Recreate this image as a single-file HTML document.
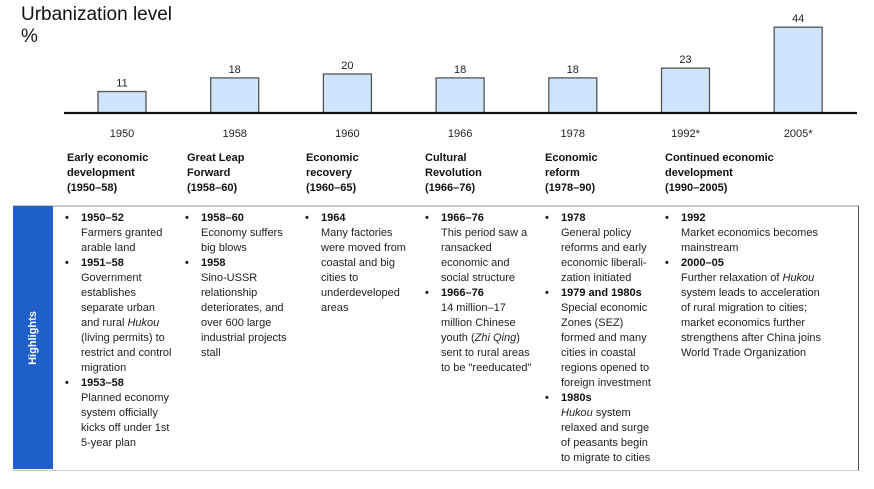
<!DOCTYPE html>
<html><head><meta charset="utf-8">
<style>
body{margin:0;background:#fff;width:874px;height:489px;overflow:hidden;position:relative;font-family:"Liberation Sans",Arial,sans-serif;color:#111}
.abs{position:absolute}
.title{left:21px;top:4px;font-size:19px;line-height:22px;color:#111}
.hdr{position:absolute;top:151px;font-size:11px;font-weight:bold;line-height:15px;white-space:nowrap}
.col{position:absolute;top:211px;font-size:11px;line-height:15px;white-space:nowrap;color:#222}
.col .it{position:relative;padding-left:16px}
.col .it::before{content:"•";position:absolute;left:0;top:0;font-size:11px;font-weight:bold}
.col b{color:#111}
</style></head><body>
<div class="abs title">Urbanization level<br>%</div>
<svg class="abs" style="left:0;top:0" width="874" height="140" id="chart"></svg>

<div class="hdr" style="left:67px">Early economic<br>development<br>(1950–58)</div>
<div class="hdr" style="left:187px">Great Leap<br>Forward<br>(1958–60)</div>
<div class="hdr" style="left:306px">Economic<br>recovery<br>(1960–65)</div>
<div class="hdr" style="left:425px">Cultural<br>Revolution<br>(1966–76)</div>
<div class="hdr" style="left:545px">Economic<br>reform<br>(1978–90)</div>
<div class="hdr" style="left:665px">Continued economic<br>development<br>(1990–2005)</div>

<div class="abs" style="left:13px;top:205px;width:845px;height:263px;border-top:2px solid #c8c8c8;border-right:1px solid #555;border-bottom:1px solid #ccc"></div>
<div class="abs" style="left:13px;top:206px;width:40px;height:263px;background:#1f5fc8">
  <div style="position:absolute;left:20px;top:132px;transform:translate(-50%,-50%) rotate(-90deg);color:#fff;font-weight:bold;font-size:11px;white-space:nowrap">Highlights</div>
</div>

<div class="col" style="left:65px">
<div class="it"><b>1950–52</b><br>Farmers granted<br>arable land</div>
<div class="it"><b>1951–58</b><br>Government<br>establishes<br>separate urban<br>and rural <i>Hukou</i><br>(living permits) to<br>restrict and control<br>migration</div>
<div class="it"><b>1953–58</b><br>Planned economy<br>system officially<br>kicks off under 1st<br>5-year plan</div>
</div>
<div class="col" style="left:185px">
<div class="it"><b>1958–60</b><br>Economy suffers<br>big blows</div>
<div class="it"><b>1958</b><br>Sino-USSR<br>relationship<br>deteriorates, and<br>over 600 large<br>industrial projects<br>stall</div>
</div>
<div class="col" style="left:305px">
<div class="it"><b>1964</b><br>Many factories<br>were moved from<br>coastal and big<br>cities to<br>underdeveloped<br>areas</div>
</div>
<div class="col" style="left:425px">
<div class="it"><b>1966–76</b><br>This period saw a<br>ransacked<br>economic and<br>social structure</div>
<div class="it"><b>1966–76</b><br>14 million–17<br>million Chinese<br>youth (<i>Zhi Qing</i>)<br>sent to rural areas<br>to be "reeducated"</div>
</div>
<div class="col" style="left:545px">
<div class="it"><b>1978</b><br>General policy<br>reforms and early<br>economic liberali-<br>zation initiated</div>
<div class="it"><b>1979 and 1980s</b><br>Special economic<br>Zones (SEZ)<br>formed and many<br>cities in coastal<br>regions opened to<br>foreign investment</div>
<div class="it"><b>1980s</b><br><i>Hukou</i> system<br>relaxed and surge<br>of peasants begin<br>to migrate to cities</div>
</div>
<div class="col" style="left:665px">
<div class="it"><b>1992</b><br>Market economics becomes<br>mainstream</div>
<div class="it"><b>2000–05</b><br>Further relaxation of <i>Hukou</i><br>system leads to acceleration<br>of rural migration to cities;<br>market economics further<br>strengthens after China joins<br>World Trade Organization</div>
</div>

<script>
const years = ["1950","1958","1960","1966","1978","1992*","2005*"];
const values = [11,18,20,18,18,23,44];
const valueLabels = ["11","18","20","18","18","23","44"];

const NS="http://www.w3.org/2000/svg";
const svg=document.getElementById('chart');
const baseY=113, pxPerUnit=1.95, x0=122, step=112.7, barW=48;
function xPos(i){return x0+i*step;}
function yPos(v){return baseY-v*pxPerUnit;}
function mk(tag,attrs){const e=document.createElementNS(NS,tag);for(const k in attrs)e.setAttribute(k,attrs[k]);svg.appendChild(e);return e;}
values.forEach((v,i)=>{
  const cx=xPos(i);
  const r=mk('rect',{x:cx-barW/2,y:yPos(v),width:barW,height:baseY-yPos(v),fill:'#cfe5fb',stroke:'#555','stroke-width':1.3});
  
  
  const t=mk('text',{x:cx,y:yPos(v)-5,'text-anchor':'middle','font-size':11,fill:'#222','font-family':'Liberation Sans, sans-serif'});
  t.textContent=valueLabels[i];
  
  
  const yl=mk('text',{x:cx,y:137,'text-anchor':'middle','font-size':11,fill:'#222','font-family':'Liberation Sans, sans-serif'});
  yl.textContent=years[i];
  
  
});
const ax=mk('line',{x1:64,y1:baseY,x2:857,y2:baseY,stroke:'#111','stroke-width':2.2});


</script>
</body></html>
